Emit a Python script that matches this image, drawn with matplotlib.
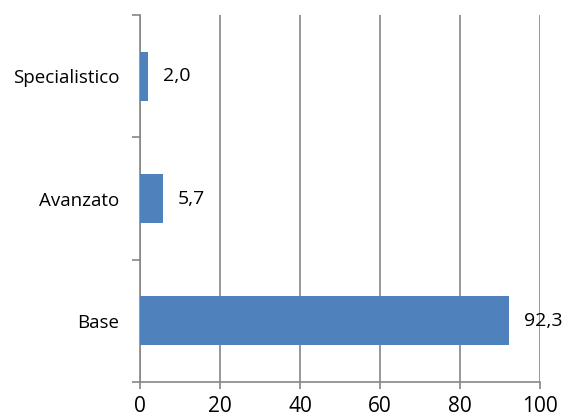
import matplotlib
matplotlib.use("Agg")
import matplotlib.pyplot as plt
from matplotlib.ticker import FixedLocator

# dati del grafico
categorie = ["Base", "Avanzato", "Specialistico"]
valori = [92.3, 5.7, 2.0]
tick_x = [0, 20, 40, 60, 80, 100]

plt.rcParams['font.family'] = ['Open Sans', 'DejaVu Sans']

blu = "#4F81BD"
grigio = "#868686"

fig = plt.figure(figsize=(5.64, 4.18), dpi=100)
ax = fig.add_axes([140/564, 36/418, 400/564, 367/418])

pos = list(range(len(categorie)))
ax.barh(pos, valori, height=0.4, color=blu, zorder=3)

# etichette dei valori
for p, v in zip(pos, valori):
    testo = ("%.1f" % v).replace(".", ",")
    ax.text(v + 3.7, p, testo, va="center", ha="left", fontsize=14, color="black")

ax.set_xlim(0, 100)
ax.set_ylim(-0.5, len(categorie) - 0.5)

ax.set_xticks(tick_x)
ax.set_xticklabels([str(t) for t in tick_x], fontsize=15)
ax.set_yticks(pos)
ax.set_yticklabels(categorie, fontsize=13.5)
ax.tick_params(axis="y", length=0, pad=15)
ax.tick_params(axis="x", length=5, color=grigio, width=1.2, pad=5)

# tacche minori a sinistra tra le categorie
ax.yaxis.set_minor_locator(FixedLocator([-0.5, 0.5, 1.5, 2.5]))
ax.tick_params(axis="y", which="minor", length=6, color=grigio, width=1.2)

ax.grid(axis="x", color=grigio, linewidth=1.2, zorder=0)
for s in ["top", "right"]:
    ax.spines[s].set_visible(False)
for s in ["left", "bottom"]:
    ax.spines[s].set_color(grigio)
    ax.spines[s].set_linewidth(1.2)

fig.savefig("out.png", dpi=100)
